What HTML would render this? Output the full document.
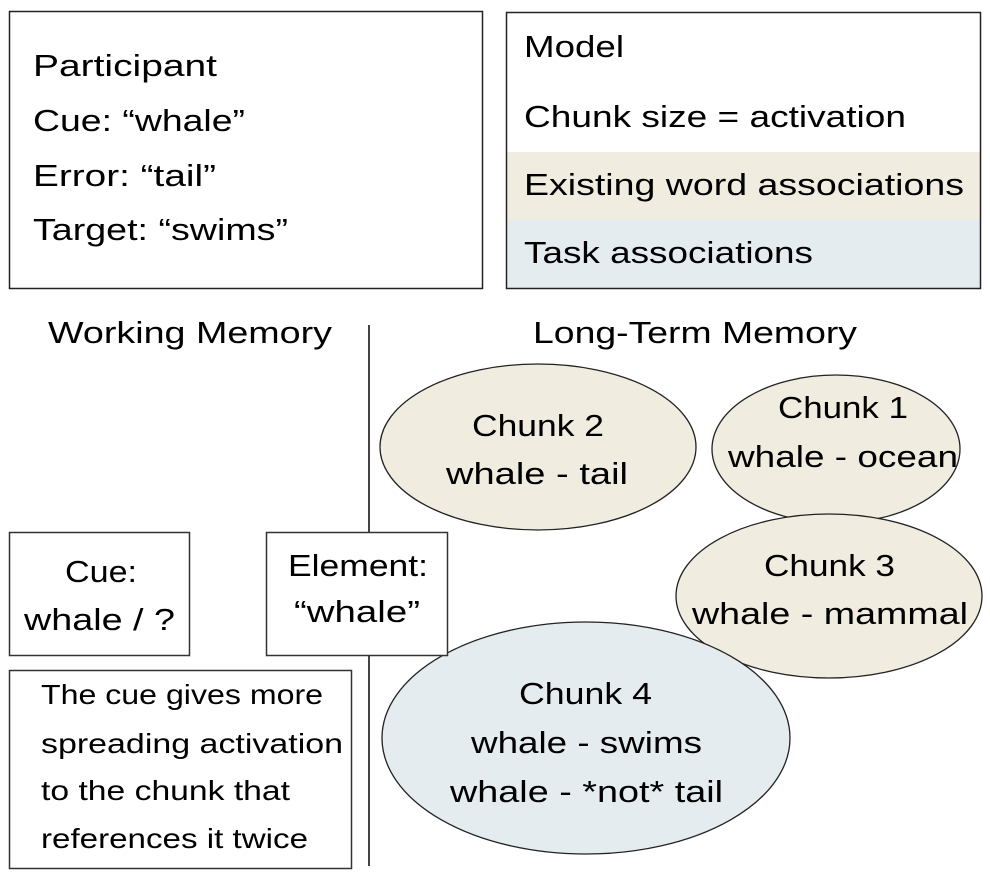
<!DOCTYPE html>
<html><head><meta charset="utf-8"><style>
html,body{margin:0;padding:0;background:#fff;}
svg{display:block;}
text{font-family:"Liberation Sans",sans-serif;fill:#000;}
</style></head><body>
<svg width="990" height="878" viewBox="0 0 990 878" xmlns="http://www.w3.org/2000/svg">
<g font-size="31" lengthAdjust="spacingAndGlyphs">
<rect x="9.5" y="11.5" width="473" height="277" fill="#fff" stroke="#222" stroke-width="1.5"/>
<text x="33" y="76" textLength="184" lengthAdjust="spacingAndGlyphs">Participant</text>
<text x="33" y="131" textLength="212" lengthAdjust="spacingAndGlyphs">Cue: “whale”</text>
<text x="33" y="186" textLength="183" lengthAdjust="spacingAndGlyphs">Error: “tail”</text>
<text x="33" y="240" textLength="255" lengthAdjust="spacingAndGlyphs">Target: “swims”</text>

<rect x="506" y="152" width="475" height="68" fill="#f0ece0"/>
<rect x="506" y="220" width="475" height="68" fill="#e4ecef"/>
<rect x="506.5" y="12.5" width="474" height="276" fill="none" stroke="#222" stroke-width="1.5"/>
<text x="524" y="57" textLength="100" lengthAdjust="spacingAndGlyphs">Model</text>
<text x="524" y="127" textLength="382" lengthAdjust="spacingAndGlyphs">Chunk size = activation</text>
<text x="524" y="195" textLength="440" lengthAdjust="spacingAndGlyphs">Existing word associations</text>
<text x="524" y="263" textLength="289" lengthAdjust="spacingAndGlyphs">Task associations</text>

<text x="48" y="343" textLength="284" lengthAdjust="spacingAndGlyphs">Working Memory</text>
<text x="533" y="343" textLength="324" lengthAdjust="spacingAndGlyphs">Long-Term Memory</text>

<line x1="369" y1="325" x2="369" y2="532" stroke="#444" stroke-width="2"/>
<line x1="369" y1="656" x2="369" y2="866" stroke="#444" stroke-width="2"/>

<ellipse cx="538" cy="447" rx="158" ry="83" fill="#f0ece0" stroke="#222" stroke-width="1.3"/>
<ellipse cx="836" cy="449" rx="124" ry="74" fill="#f0ece0" stroke="#222" stroke-width="1.3"/>
<ellipse cx="829" cy="596" rx="153" ry="82" fill="#f0ece0" stroke="#222" stroke-width="1.3"/>
<ellipse cx="586" cy="738" rx="204" ry="116" fill="#e4ecef" stroke="#222" stroke-width="1.3"/>

<text x="472" y="436" textLength="132" lengthAdjust="spacingAndGlyphs">Chunk 2</text>
<text x="446" y="484" textLength="182" lengthAdjust="spacingAndGlyphs">whale - tail</text>
<text x="778" y="418" textLength="130" lengthAdjust="spacingAndGlyphs">Chunk 1</text>
<text x="728" y="467" textLength="230" lengthAdjust="spacingAndGlyphs">whale - ocean</text>
<text x="764" y="576" textLength="131" lengthAdjust="spacingAndGlyphs">Chunk 3</text>
<text x="692" y="624" textLength="276" lengthAdjust="spacingAndGlyphs">whale - mammal</text>
<text x="519" y="704" textLength="133" lengthAdjust="spacingAndGlyphs">Chunk 4</text>
<text x="471" y="753" textLength="231" lengthAdjust="spacingAndGlyphs">whale - swims</text>
<text x="450" y="802" textLength="273" lengthAdjust="spacingAndGlyphs">whale - *not* tail</text>

<rect x="9.5" y="532.5" width="180" height="123" fill="#fff" stroke="#333" stroke-width="1.5"/>
<text x="65" y="582" textLength="72" lengthAdjust="spacingAndGlyphs">Cue:</text>
<text x="24" y="630" textLength="151" lengthAdjust="spacingAndGlyphs">whale / ?</text>

<rect x="266.5" y="532.5" width="181" height="123" fill="#fff" stroke="#333" stroke-width="1.5"/>
<text x="288" y="576" textLength="140" lengthAdjust="spacingAndGlyphs">Element:</text>
<text x="294" y="622" textLength="126" lengthAdjust="spacingAndGlyphs">“whale”</text>

<rect x="9.5" y="670.5" width="342" height="198" fill="#fff" stroke="#333" stroke-width="1.5"/>
<g font-size="28">
<text x="41" y="704" textLength="282" lengthAdjust="spacingAndGlyphs">The cue gives more</text>
<text x="41" y="753" textLength="302" lengthAdjust="spacingAndGlyphs">spreading activation</text>
<text x="41" y="800" textLength="249" lengthAdjust="spacingAndGlyphs">to the chunk that</text>
<text x="41" y="848" textLength="267" lengthAdjust="spacingAndGlyphs">references it twice</text>
</g>
</g>
</svg>
</body></html>
